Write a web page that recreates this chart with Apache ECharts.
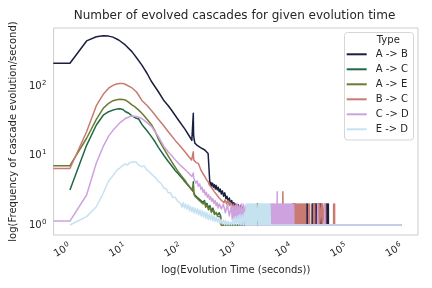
<!DOCTYPE html>
<html><head><meta charset="utf-8">
<script src="https://cdn.jsdelivr.net/npm/echarts@6/dist/echarts.min.js"></script>
<style>html,body{margin:0;padding:0;background:#fff}#c{width:432px;height:288px}</style>
</head><body><div id="c"></div>
<script>
const seriesNames = ['A -> B', 'A -> C', 'A -> E', 'B -> C', 'C -> D', 'E -> D'];
const seriesColors = ['#1b1f3f', '#1f6a45', '#6b7b33', '#c97a73', '#cea2de', '#c5e2f1'];

const abData = [[0.5,212],[1,212],[2,445],[3,512],[4,530],[5,522],[6,505],[7.6,459],[10,390],[13.2,312],[16,255],[20,200],[25,150],[30,115],[40,82],[49,63],[60,52],[70,44],[90,33],[120,24],[150,18],[160,16.5],[168,15.6],[170,40.5],[172,20],[176,17],[182,15],[200,14],[230,13],[274,12],[315,10.7],[333,10.4],[336,4.4],[345,3.7],[355,4.1],[365,3.6],[380,4.0],[395,3.5],[410,3.8],[425,3.3],[440,3.7],[460,3.2],[478,3.5],[500,3.0],[520,3.3],[545,2.8],[570,3.1],[600,2.6],[630,2.9],[660,2.4],[690,2.6],[720,2.2],[760,2.45],[800,2.05],[840,2.25],[880,1.9],[920,2.1],[960,1.8],[1000,2.0],[1050,1.7],[1100,1.95],[1150,1.6],[1200,1.9],[1260,1.55],[1320,1.8],[1380,1.5],[1420,1.0],
[10680,1],[10700,2],[10900,1],[11130,2],[11350,1],[11600,2],[11650,1],[19030,1],[19100,2],[19450,1],[19830,2],[19900,1],[23900,1],[23950,2],[24400,1],[24870,2],[25390,1],[25900,2],[26400,1],[26900,2],[27400,1],[27900,2],[28400,1],[28910,2],[28950,1],[31400,1],[31450,2],[32000,1],[32720,2],[33400,1],[34100,2],[34800,1],[35540,2],[35600,1],[43600,1],[43670,2],[44500,1],[45510,2],[46300,1],[47000,2],[47100,1],[1000000,1]];

const acData = [[1,3.19],[2,14],[3,27.5],[4,38],[5,42.7],[6,45],[7,46.5],[7.6,49.4],[8,47],[9,46],[10,43],[11.6,40.5],[13,37.5],[15,35],[17.5,33.5],[20,28],[25,22.5],[30,18.5],[35,15.5],[40,13],[50,10],[60,8.2],[70,7.0],[80,6.1],[90,5.5],[100,5.0],[110,4.6],[120,4.2],[130,3.9],[140,3.65],[150,3.4],[160,3.2],[168,3.05],[170,4.2],[173,2.95],[181,2.7],[190,2.85],[200,2.5],[212,2.65],[225,2.3],[240,2.45],[255,2.1],[270,2.25],[285,1.9],[300,2.05],[320,1.75],[340,1.9],[360,1.6],[385,1.75],[410,1.5],[440,1.6],[470,1.4],[500,1.5],[530,1.35],[545,1.0],[2460,1],[2480,2],[2500,1],[3000,1]];

const aeData = [[0.5,7.13],[1,7.13],[2,17.7],[3,33],[4,47.8],[5,56.3],[6,61.5],[7,63.5],[8,64.5],[9,64],[10,63],[11.6,58],[13,54],[15,50],[17.5,45],[20,40.5],[25,33],[30,27.5],[35,22],[40,17],[50,12.5],[60,9.8],[70,8.0],[80,6.8],[90,5.9],[100,5.3],[110,4.8],[120,4.4],[130,4.0],[140,3.7],[150,3.45],[160,3.2],[168,3.0],[170,3.8],[173,2.85],[181,2.6],[190,2.75],[200,2.4],[212,2.55],[225,2.2],[240,2.35],[255,2.0],[270,2.15],[285,1.8],[300,1.95],[320,1.65],[340,1.8],[360,1.52],[385,1.65],[410,1.42],[440,1.52],[470,1.33],[500,1.42],[530,1.3],[545,1.0],[2380,1],[2420,2],[2440,1],[3000,1]];

const bcData = [[0.5,6.5],[1,6.5],[2,22],[3,52],[4,76],[5,93],[6,102],[7,107],[8,109],[9,109],[10,106],[13,95],[16,82],[20,62],[25,52],[30,44],[40,33],[50,26.5],[60,22],[80,16.5],[100,13.5],[120,11.3],[140,9.7],[158,8.6],[168,8.2],[170,11.3],[173,8.6],[180,8.2],[190,7.9],[200,8.1],[209,7.7],[220,7.0],[235,6.1],[250,5.6],[265,5.2],[280,4.9],[295,4.5],[316,4.2],[330,3.8],[350,3.9],[370,3.4],[390,3.5],[410,3.0],[430,3.15],[455,2.7],[478,2.8],[500,2.45],[525,2.6],[550,2.25],[580,2.4],[610,2.1],[640,2.3],[680,2.0],[720,2.25],[762,1.9],[800,2.1],[850,1.8],[900,2.0],[950,1.7],[1000,1.95],[1059,1.6],[1100,1.85],[1151,1.55],[1200,1.8],[1250,1.5],[1300,1.7],[1358,1.5],[1400,1.65],[1475,1.0],
[7000,1],[7072,3],[7150,1],[11600,1],[11650,2],[11900,1],[12150,2],[12400,1],[12650,2],[12900,1],[13150,2],[13400,1],[13680,2],[13950,1],[14260,2],[14550,1],[14860,2],[15200,1],[15480,2],[15500,1],[16130,1],[16150,2],[16450,1],[16810,2],[17150,1],[17520,2],[17900,1],[18260,2],[18300,1],[20660,1],[20700,2],[21100,1],[21530,2],[21600,1],[25390,1],[25400,2],[25900,1],[26600,2],[26700,1],[30130,1],[30150,2],[30700,1],[31400,2],[32000,1],[32720,2],[32750,1],[35540,1],[35600,2],[36300,1],[37030,2],[37100,1],[40210,1],[40300,2],[41000,1],[41910,2],[42000,1],[58450,1],[58500,2],[59700,1],[60950,2],[61000,1],[1000000,1]];

const cdData = [[0.5,1.14],[1,1.14],[2,2.7],[3,7.8],[4,13.5],[5,19],[6,23],[8,29.5],[10,34],[13,37],[16,36.5],[20,34],[25,29.5],[30,26],[40,18.5],[50,13.5],[60,11.2],[70,9.8],[80,8.7],[100,7.2],[120,6.3],[140,5.6],[160,5.0],[168,4.8],[170,5.6],[173,4.7],[182,4.5],[190,4.0],[200,4.3],[210,3.6],[222,3.9],[234,3.25],[245,3.5],[256,2.95],[268,3.2],[280,2.7],[293,2.95],[306,2.5],[320,2.75],[335,2.35],[350,2.55],[366,2.2],[383,2.4],[400,2.05],[420,2.25],[440,1.9],[460,2.1],[480,1.75],[504,2.0],[547,1.7],[594,2.0],[645,1.5],[701,1.95],[762,1.35],[826,1.9],[860,1.2],[898,1.85],[940,1.15],[975,1.9],[1020,1.1],[1059,2.0],[1100,1.1],[1151,1.9],[1200,1.0],[1250,2.0],[1300,1.0],[1358,2.0],[1420,1],[1475,1.9],[1500,1],
[4137,1],[4220,2],[4311,1],[4400,2],[4493,1],[4590,2],[4682,1],[4780,2],[4879,1],[4980,2],[5085,1],[5190,2],[5299,1],[5410,2],[5522,1],[5600,3],[5640,1],[5754,2],[5870,1],[5997,2],[6120,1],[6249,2],[6380,1],[6512,2],[6650,1],[6786,2],[6930,1],[7072,2],[7220,1],[7370,2],[7520,1],[7680,2],[7840,1],[8003,2],[8170,1],[8340,2],[8510,1],[8691,2],[8870,1],[9057,2],[9250,1],[9438,2],[9640,1],[9836,2],[10040,1],[10250,2],[10460,1],[10680,2],[10900,1],[11130,2],[11200,1],[30000,1],[30130,2],[30500,1],[40000,1],[40210,2],[40700,1],[1000000,1]];

const edData = [[1,1],[2,1.32],[3,1.83],[4,2.86],[5,4.3],[6,5.1],[7,6.1],[8,6.6],[9,7.2],[10,7.55],[11,7.3],[12,7.9],[13,7.5],[14,8.1],[15,7.7],[16,8.0],[17,7.4],[18,7.8],[20,6.9],[22,7.1],[24,6.3],[26,6.5],[28,5.7],[30,5.4],[33,5.0],[36,4.7],[40,4.2],[44,4.0],[50,3.4],[55,3.3],[60,2.9],[66,2.9],[72,2.5],[80,2.5],[88,2.2],[95,2.3],[100,2.05],[106,1.8],[112,2.1],[118,1.75],[124,2.0],[131,1.7],[138,1.95],[145,1.6],[152,1.85],[160,1.55],[168,1.8],[176,1.5],[185,1.75],[194,1.45],[204,1.7],[214,1.4],[225,1.65],[236,1.35],[248,1.6],[260,1.3],[273,1.55],[287,1.25],[301,1.5],[316,1.2],[332,1.45],[349,1.18],[366,1.4],[384,1.15],[403,1.35],[423,1.12],[444,1.3],[466,1.1],[490,1.25],[514,1.05],[540,1.2],[567,1.03],[595,1.18],[625,1.0],[656,1.15],[689,1.0],[723,1.12],[760,1.0],[798,1.1],[838,1.0],[880,1.2],[924,1.0],[970,1.3],[1019,1.0],[1070,1.35],[1123,1.0],[1180,1.4],[1239,1.0],[1300,1.4],[1365,1.0],[1433,1.5],[1500,1.0],
[1538,2],[1570,1],[1602,2],[1636,1],[1670,2],[1705,1],[1740,2],[1777,1],[1814,2],[1852,1],[1890,2],[1930,1],[1969,2],[2010,1],[2052,2],[2095,1],[2138,2],[2183,1],[2228,2],[2275,1],[2322,2],[2370,1],[2470,1],[2522,2],[2575,1],[2628,2],[2683,1],[2739,2],[2796,1],[2855,2],[2915,1],[2975,2],[3037,1],[3100,2],[3165,1],[3230,2],[3297,1],[3366,2],[3436,1],[3508,2],[3581,1],[3656,2],[3732,1],[3810,2],[3890,1],[3970,2],[4050,1],[4137,2],[4200,1],[1000000,1]];

const allData = [abData, acData, aeData, bcData, cdData, edData];

const FONT = 'DejaVu Sans';
const TXT = '#262626';
function powLabel(v) {
  const e = Math.log10(v);
  const r = Math.round(e);
  if (Math.abs(e - r) > 1e-6) return '';
  return '{b|10}{s|' + r + '}';
}
const richLbl = {
  b: {fontSize: 10, fontFamily: FONT, color: TXT, lineHeight: 13},
  s: {fontSize: 7, fontFamily: FONT, color: TXT, verticalAlign: 'top', lineHeight: 13, padding: [0,0,0,0.5]}
};

const chart = echarts.init(document.getElementById('c'), null, {renderer: 'canvas'});
chart.setOption({
  animation: false,
  backgroundColor: '#ffffff',
  title: {
    text: 'Number of evolved cascades for given evolution time',
    left: 234.5, top: 10, textAlign: 'center', padding: 0,
    textStyle: {fontSize: 12, fontWeight: 'normal', color: TXT, fontFamily: FONT}
  },
  grid: {left: 51, top: 28, width: 367, height: 207, show: true, borderColor: '#cccccc', borderWidth: 1, containLabel: false},
  xAxis: {
    type: 'log', logBase: 10, min: 0.506, max: 1963000,
    axisLine: {show: false}, axisTick: {show: false}, splitLine: {show: false}, minorTick: {show: false},
    axisLabel: {rotate: 30, margin: 11, formatter: powLabel, rich: richLbl, color: TXT},
    name: 'log(Evolution Time (seconds))', nameLocation: 'middle', nameGap: 30,
    nameTextStyle: {fontSize: 10, color: TXT, fontFamily: FONT}
  },
  yAxis: {
    type: 'log', logBase: 10, min: 0.718, max: 683,
    axisLine: {show: false}, axisTick: {show: false}, splitLine: {show: false}, minorTick: {show: false},
    axisLabel: {margin: 7, formatter: powLabel, rich: richLbl, color: TXT},
    name: 'log(Frequency of cascade evolution/second)', nameLocation: 'middle', nameGap: 32, nameRotate: 90,
    nameTextStyle: {fontSize: 10, color: TXT, fontFamily: FONT}
  },
  legend: {
    orient: 'vertical', left: 346.7, top: 46.8, padding: 0, itemGap: 0,
    itemWidth: 20, itemHeight: 2, icon: 'rect', selectedMode: false,
    data: seriesNames,
    textStyle: {fontSize: 10, color: TXT, fontFamily: FONT, lineHeight: 15, padding: [0,0,0,4]}
  },
  graphic: [
    {type: 'rect', z: 1, shape: {x: 344.5, y: 32.5, width: 69, height: 107.5, r: 3},
     style: {fill: 'rgba(255,255,255,0.8)', stroke: '#d6d6d6', lineWidth: 1}},
    {type: 'text', z: 5, x: 388.3, y: 40,
     style: {text: 'Type', fill: TXT, font: '10px "DejaVu Sans"', align: 'center', verticalAlign: 'middle', textAlign: 'center', textVerticalAlign: 'middle'}}
  ],
  series: seriesNames.map((n, i) => ({
    name: n, type: 'line', data: allData[i], color: seriesColors[i],
    symbol: 'none', showSymbol: false, clip: true, z: 2,
    lineStyle: {width: 1.5, color: seriesColors[i], join: 'round'},
    emphasis: {disabled: true}
  }))
});
</script>
</body></html>
